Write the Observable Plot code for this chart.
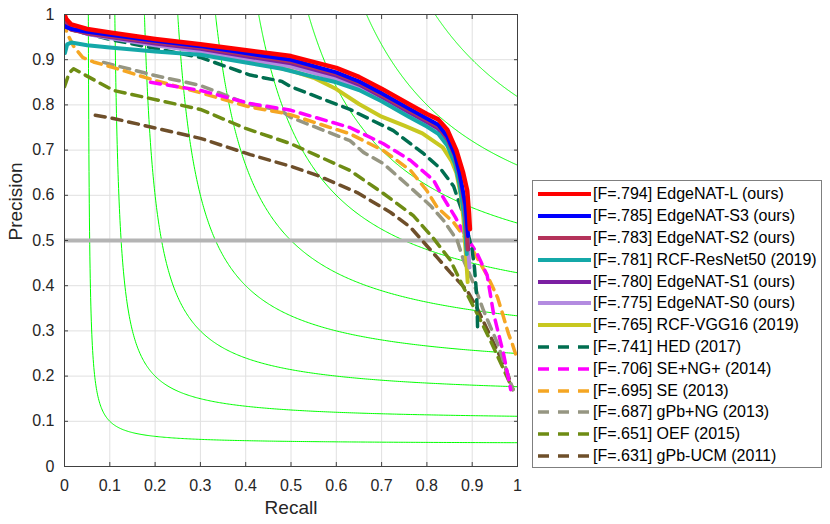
<!DOCTYPE html>
<html><head><meta charset="utf-8">
<script src="https://cdn.jsdelivr.net/npm/d3@7"></script>
<script src="https://cdn.jsdelivr.net/npm/@observablehq/plot@0.6"></script>
<style>
body{margin:0;background:#fff;font-family:"Liberation Sans",Arial,Helvetica,sans-serif}
#wrap{position:relative;width:830px;height:524px}
#legend{position:absolute;left:532px;top:180px;width:290px;height:288px;border:1px solid #7f7f7f;background:#fff;box-sizing:border-box}
.row{position:absolute;left:0;height:22px;width:288px}
.row svg{position:absolute;left:4px;top:0}
.row span{position:absolute;left:60px;top:2px;font-size:16px;line-height:18px;color:#000;white-space:nowrap}
</style></head>
<body><div id="wrap"><div id="chart"></div><div id="legend"></div></div>
<script>
// ---- data ----
const tickValues = [0,0.1,0.2,0.3,0.4,0.5,0.6,0.7,0.8,0.9,1];
const tickLabels = ["0","0.1","0.2","0.3","0.4","0.5","0.6","0.7","0.8","0.9","1"];
const isoF = [0.1,0.2,0.3,0.4,0.5,0.6,0.7,0.8,0.9];
const humanP = [0.5];

const seriesNames = ["EdgeNAT-L (ours)","EdgeNAT-S3 (ours)","EdgeNAT-S2 (ours)","RCF-ResNet50 (2019)","EdgeNAT-S1 (ours)","EdgeNAT-S0 (ours)","RCF-VGG16 (2019)","HED (2017)","SE+NG+ (2014)","SE (2013)","gPb+NG (2013)","OEF (2015)","gPb-UCM (2011)"];
const seriesF = [".794",".785",".783",".781",".780",".775",".765",".741",".706",".695",".687",".651",".631"];
const seriesColors = ["#ff0000","#0000ff","#b4325a","#14a8a8","#7b1fa2","#b38be0","#c8c820","#006e50","#ff00ff","#f5a623","#969682","#6e8c14","#6e4f2a"];
const seriesDashed = [false,false,false,false,false,false,false,true,true,true,true,true,true];

const edgeL = [[0,1.0],[0.004,0.99],[0.015,0.978],[0.05,0.968],[0.1,0.96],[0.2,0.946],[0.3,0.934],[0.41,0.92],[0.5,0.908],[0.6,0.882],[0.65,0.862],[0.7,0.836],[0.76,0.802],[0.8,0.78],[0.825,0.768],[0.845,0.745],[0.865,0.70],[0.88,0.65],[0.889,0.61],[0.893,0.56],[0.895,0.525]];
const edgeS3 = [[0,0.975],[0.004,0.972],[0.015,0.968],[0.05,0.962],[0.1,0.955],[0.2,0.942],[0.3,0.93],[0.41,0.913],[0.5,0.9],[0.6,0.872],[0.65,0.852],[0.7,0.826],[0.76,0.792],[0.8,0.77],[0.825,0.756],[0.845,0.73],[0.862,0.69],[0.872,0.65],[0.885,0.58],[0.891,0.51]];
const edgeS2 = [[0,0.98],[0.004,0.974],[0.015,0.966],[0.05,0.959],[0.1,0.952],[0.2,0.939],[0.3,0.927],[0.41,0.91],[0.5,0.896],[0.6,0.869],[0.65,0.849],[0.7,0.822],[0.76,0.788],[0.8,0.766],[0.825,0.752],[0.845,0.726],[0.862,0.686],[0.872,0.645],[0.884,0.575],[0.89,0.48]];
const edgeS1 = [[0,0.99],[0.004,0.978],[0.015,0.968],[0.05,0.958],[0.1,0.95],[0.2,0.936],[0.3,0.924],[0.41,0.906],[0.5,0.892],[0.6,0.865],[0.65,0.845],[0.7,0.818],[0.76,0.784],[0.8,0.762],[0.825,0.748],[0.845,0.722],[0.862,0.682],[0.872,0.64],[0.884,0.57],[0.891,0.48]];
const edgeS0 = [[0,1.0],[0.004,0.985],[0.015,0.97],[0.05,0.957],[0.1,0.948],[0.2,0.932],[0.3,0.918],[0.41,0.9],[0.5,0.885],[0.6,0.857],[0.65,0.837],[0.7,0.81],[0.76,0.776],[0.8,0.754],[0.825,0.739],[0.845,0.715],[0.862,0.675],[0.872,0.63],[0.884,0.56],[0.89,0.5],[0.894,0.44]];
const rcfRes = [[0.001,0.915],[0.006,0.934],[0.015,0.938],[0.05,0.932],[0.1,0.927],[0.2,0.918],[0.3,0.911],[0.41,0.892],[0.48,0.88],[0.55,0.862],[0.6,0.85],[0.65,0.833],[0.7,0.808],[0.76,0.774],[0.8,0.752],[0.825,0.736],[0.845,0.71],[0.862,0.67],[0.872,0.625],[0.883,0.55],[0.888,0.47]];
const rcfVgg = [[0,0.99],[0.004,0.978],[0.015,0.968],[0.05,0.96],[0.1,0.953],[0.2,0.937],[0.3,0.92],[0.41,0.896],[0.5,0.876],[0.55,0.86],[0.6,0.835],[0.65,0.802],[0.7,0.774],[0.75,0.754],[0.79,0.737],[0.835,0.706],[0.855,0.675],[0.865,0.65],[0.875,0.6],[0.881,0.544],[0.886,0.47],[0.89,0.408]];
const hed = [[0.005,0.975],[0.02,0.965],[0.1,0.945],[0.2,0.925],[0.3,0.905],[0.41,0.866],[0.48,0.852],[0.5,0.84],[0.63,0.79],[0.726,0.743],[0.793,0.692],[0.83,0.659],[0.859,0.62],[0.881,0.555],[0.9,0.478],[0.905,0.44],[0.909,0.39],[0.911,0.35],[0.912,0.30]];
const seNg = [[0.19,0.85],[0.3,0.832],[0.41,0.803],[0.477,0.792],[0.5,0.788],[0.63,0.75],[0.704,0.714],[0.764,0.677],[0.815,0.633],[0.83,0.605],[0.863,0.551],[0.881,0.518],[0.911,0.471],[0.933,0.423],[0.947,0.339],[0.969,0.25],[0.985,0.17]];
const se = [[0,0.985],[0.005,0.96],[0.02,0.93],[0.04,0.905],[0.064,0.895],[0.11,0.882],[0.2,0.854],[0.3,0.827],[0.41,0.795],[0.477,0.783],[0.5,0.778],[0.63,0.736],[0.704,0.699],[0.764,0.655],[0.8,0.61],[0.823,0.573],[0.859,0.54],[0.889,0.5],[0.933,0.423],[0.956,0.374],[0.967,0.338],[0.98,0.294],[0.989,0.27],[0.997,0.245]];
const gpbNg = [[0.086,0.894],[0.2,0.865],[0.3,0.843],[0.41,0.8],[0.477,0.788],[0.5,0.772],[0.63,0.721],[0.66,0.695],[0.704,0.67],[0.764,0.617],[0.808,0.577],[0.837,0.544],[0.867,0.5],[0.881,0.456],[0.903,0.405],[0.925,0.345],[0.956,0.272],[0.98,0.2],[0.99,0.17]];
const oef = [[0,0.84],[0.01,0.87],[0.02,0.88],[0.108,0.832],[0.3,0.79],[0.4,0.748],[0.5,0.714],[0.63,0.655],[0.704,0.604],[0.77,0.555],[0.815,0.504],[0.852,0.456],[0.881,0.396],[0.911,0.338],[0.94,0.279],[0.989,0.172]];
const gpbUcm = [[0.068,0.777],[0.108,0.77],[0.3,0.726],[0.41,0.69],[0.5,0.664],[0.558,0.644],[0.646,0.606],[0.72,0.562],[0.764,0.529],[0.823,0.462],[0.852,0.429],[0.889,0.389],[0.911,0.35],[0.93,0.31],[0.973,0.219],[0.99,0.17]];
const seriesData = [edgeL,edgeS3,edgeS2,rcfRes,edgeS1,edgeS0,rcfVgg,hed,seNg,se,gpbNg,oef,gpbUcm];

// ---- iso-F contours (F = 2PR/(P+R)) ----
const isoRows = [];
for (const f of isoF) {
  const r0 = f / (2 - f);
  for (let i = 0; i <= 300; i++) {
    const t = i / 300;
    const r = r0 + (1 - r0) * t * t;
    isoRows.push({f, r, p: f * r / (2 * r - f)});
  }
}

const fmt = d => tickLabels[tickValues.findIndex(v => Math.abs(v - d) < 1e-9)];
const lineMarks = [];
for (let k = seriesData.length - 1; k >= 0; k--) {
  lineMarks.push(Plot.line(seriesData[k], {
    x: d => d[0], y: d => d[1],
    stroke: seriesColors[k],
    strokeWidth: k === 0 ? 4.5 : (seriesDashed[k] ? 3.5 : 4),
    strokeDasharray: seriesDashed[k] ? "10,7" : null,
    strokeLinejoin: "round",
    clip: true
  }));
}

const chart = Plot.plot({
  width: 830, height: 524,
  marginLeft: 64, marginRight: 313, marginTop: 14, marginBottom: 58,
  style: {fontFamily: '"Liberation Sans", Arial, sans-serif', background: "#fff", color: "#262626"},
  x: {domain: [0, 1]},
  y: {domain: [0, 1]},
  marks: [
    Plot.gridX(tickValues, {stroke: "#e0e0e0", strokeOpacity: 1}),
    Plot.gridY(tickValues, {stroke: "#e0e0e0", strokeOpacity: 1}),
    Plot.line(isoRows, {x: "r", y: "p", z: "f", stroke: "#00ff00", strokeWidth: 1, clip: true}),
    Plot.ruleY(humanP, {stroke: "#b4b4b4", strokeWidth: 4}),
    ...lineMarks,
    Plot.frame({stroke: "#404040", strokeWidth: 1}),
    Plot.axisX(tickValues, {anchor: "bottom", tickSize: -4, tickPadding: 17, tickFormat: fmt, fontSize: 16, label: null, stroke: "#404040"}),
    Plot.axisX(tickValues, {anchor: "top", tickSize: -4, tickFormat: () => "", label: null, stroke: "#404040"}),
    Plot.axisY(tickValues, {anchor: "left", tickSize: -4, tickPadding: 14, tickFormat: fmt, fontSize: 16, label: null, stroke: "#404040"}),
    Plot.axisY(tickValues, {anchor: "right", tickSize: -4, tickFormat: () => "", label: null, stroke: "#404040"}),
    Plot.text(["Recall"], {frameAnchor: "bottom", dy: 47, fontSize: 19, fill: "#262626"}),
    Plot.text(["Precision"], {frameAnchor: "left", dx: -49, rotate: -90, fontSize: 19, fill: "#262626"})
  ]
});
document.getElementById("chart").appendChild(chart);

// ---- legend ----
const legend = document.getElementById("legend");
seriesNames.forEach((name, i) => {
  const row = document.createElement("div");
  row.className = "row";
  row.style.top = (2.3 + i * 21.8) + "px";
  const dash = seriesDashed[i] ? 'stroke-dasharray="11,9"' : '';
  row.innerHTML = `<svg width="56" height="22"><line x1="1" x2="54" y1="11" y2="11" stroke="${seriesColors[i]}" stroke-width="${seriesDashed[i] ? 3.5 : 4}" ${dash}/></svg><span>[F=${seriesF[i]}] ${name}</span>`;
  legend.appendChild(row);
});
</script>
</body></html>
